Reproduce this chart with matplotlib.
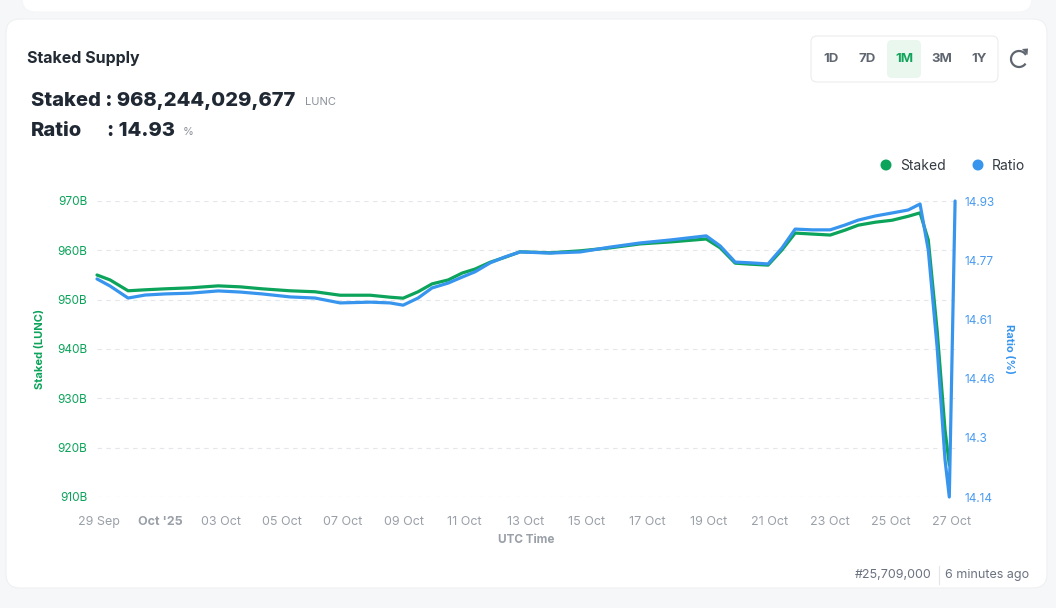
import numpy as np
import matplotlib
matplotlib.use("Agg")
from matplotlib import pyplot as plt
from matplotlib.patches import FancyBboxPatch, Arc, Polygon, Circle

plt.rcParams['font.family'] = ['Inter', 'DejaVu Sans']

# days after 29 Sep 2025
day_offset = [-0.07, 0.36, 0.95, 1.51, 2.17, 2.99, 3.91, 4.63, 5.35, 6.27,
              7.09, 7.91, 8.90, 9.55, 9.98, 10.47, 10.93, 11.46, 11.92, 12.34,
              12.84, 13.33, 13.82, 14.81, 15.79, 16.78, 17.76, 18.75, 19.93, 20.39,
              20.88, 21.37, 21.96, 22.42, 22.85, 23.41, 24.00, 24.49, 24.92, 25.48,
              26.03, 26.56, 26.95, 27.22, 27.51, 27.77, 27.91, 28.10]

# staked supply in billions of LUNC (no value for the last timestamp)
staked_b = [955.0, 954.0, 951.8, 952.0, 952.2, 952.4, 952.8, 952.6, 952.2, 951.8,
            951.6, 950.9, 950.9, 950.5, 950.3, 951.6, 953.2, 954.0, 955.4, 956.2,
            957.6, 958.6, 959.7, 959.5, 959.9, 960.5, 961.3, 961.7, 962.3, 960.5,
            957.4, 957.2, 957.0, 960.1, 963.5, 963.3, 963.1, 964.1, 965.1, 965.7,
            966.1, 966.9, 967.6, 962.1, 943.8, 923.6, 916.5, np.nan]

# staking ratio in %
ratio_pct = [14.722, 14.703, 14.671, 14.679, 14.682, 14.684, 14.690, 14.687, 14.682, 14.674,
             14.671, 14.658, 14.660, 14.658, 14.652, 14.671, 14.698, 14.711, 14.727, 14.741,
             14.765, 14.781, 14.794, 14.791, 14.794, 14.807, 14.818, 14.826, 14.837, 14.810,
             14.767, 14.765, 14.762, 14.805, 14.855, 14.853, 14.853, 14.866, 14.879, 14.890,
             14.898, 14.906, 14.922, 14.799, 14.540, 14.239, 14.140, 14.930]

x_ticks = list(range(0, 29, 2))
x_labels = ['29 Sep', "Oct '25", '03 Oct', '05 Oct', '07 Oct', '09 Oct', '11 Oct', '13 Oct',
            '15 Oct', '17 Oct', '19 Oct', '21 Oct', '23 Oct', '25 Oct', '27 Oct']
left_ticks = [910, 920, 930, 940, 950, 960, 970]
right_labels = ['14.14', '14.3', '14.46', '14.61', '14.77', '14.93']

GREEN = '#0ca35a'
BLUE = '#3795ee'
GRAY = '#9aa0a8'
DARK = '#1f2833'

W, H = 1056, 608
fig = plt.figure(figsize=(W / 100, H / 100), dpi=100)
fig.patch.set_facecolor('#f6f7f9')

# overlay in pixel coordinates for the card and the header texts
ov = fig.add_axes([0, 0, 1, 1])
ov.set_xlim(0, W)
ov.set_ylim(H, 0)
ov.axis('off')
ov.set_zorder(0)

ov.add_patch(FancyBboxPatch((22, -30), 1010, 42, boxstyle='round,pad=0,rounding_size=14',
                            fc='white', ec='#f4f5f7', lw=0.6))
ov.add_patch(FancyBboxPatch((6, 19), 1041, 569, boxstyle='round,pad=0,rounding_size=14',
                            fc='white', ec='#eff0f2', lw=0.8))

ov.text(27, 58, 'Staked Supply', fontsize=11.5, fontweight='bold', color='#222a33', va='center')
ov.text(31, 101, 'Staked : 968,244,029,677', fontsize=14.5, fontweight='heavy', color=DARK, va='center')
ov.text(305, 102, 'LUNC', fontsize=8, color='#8a9099', va='center')
ov.text(31, 131, 'Ratio', fontsize=14.5, fontweight='heavy', color=DARK, va='center')
ov.text(107, 131, ': 14.93', fontsize=14.5, fontweight='heavy', color=DARK, va='center')
ov.text(183, 132, '%', fontsize=8, color='#8a9099', va='center')

# period buttons
ov.add_patch(FancyBboxPatch((811, 36), 187, 46, boxstyle='round,pad=0,rounding_size=6',
                            fc='white', ec='#ececee', lw=0.8))
ov.add_patch(FancyBboxPatch((887, 40), 34, 38, boxstyle='round,pad=0,rounding_size=5',
                            fc='#eaf7ef', ec='none'))
for lbl, bx in zip(['1D', '7D', '1M', '3M', '1Y'], [831, 867, 904, 942, 979]):
    ov.text(bx, 59, lbl, fontsize=9.5, fontweight='bold', ha='center', va='center',
            color='#11a45a' if lbl == '1M' else '#5f6670')
ov.add_patch(Arc((1019, 59), 16, 16, theta1=35, theta2=330, color='#5f6670', lw=1.6))
ov.add_patch(Polygon([[1022, 49], [1028, 48.5], [1027.5, 55]], closed=True, fc='#5f6670', ec='none'))

# legend
ov.add_patch(Circle((886, 165), 5.5, fc=GREEN, ec='none'))
ov.text(900, 165.5, 'Staked', fontsize=10, color='#333a42', va='center')
ov.add_patch(Circle((978, 165), 5.5, fc=BLUE, ec='none'))
ov.text(992, 165.5, 'Ratio', fontsize=10, color='#333a42', va='center')

# footer
ov.text(932, 575, '#25,709,000', fontsize=9, color='#6b7280', ha='right', va='center')
ov.plot([939, 939], [566, 584], color='#e3e5e8', lw=0.8)
ov.text(945, 575, '6 minutes ago', fontsize=9, color='#6b7280', ha='left', va='center')

# chart
left, right, top, bottom = 97, 956, 201, 497
ax = fig.add_axes([left / W, (H - bottom) / H, (right - left) / W, (bottom - top) / H])
ax.set_zorder(2)
ax.patch.set_alpha(0)
ax2 = ax.twinx()
ax2.set_zorder(3)
ax2.patch.set_alpha(0)

ax.plot(day_offset, staked_b, color=GREEN, lw=2.3, solid_joinstyle='round',
        solid_capstyle='round', clip_on=False)
ax2.plot(day_offset, ratio_pct, color=BLUE, lw=2.3, solid_joinstyle='round',
         solid_capstyle='round', clip_on=False)

ax.set_xlim(-0.07, 28.13)
ax.set_ylim(910, 970)
ax2.set_ylim(14.14, 14.93)

ax.set_yticks(left_ticks)
ax.set_yticklabels([f'{v}B' for v in left_ticks])
ax2.set_yticks(np.linspace(14.14, 14.93, len(right_labels)))
ax2.set_yticklabels(right_labels)

ax.set_xticks(x_ticks)
ax.set_xticklabels(x_labels)
for t in ax.get_xticklabels():
    if t.get_text() == "Oct '25":
        t.set_fontweight('bold')
        t.set_color('#6b7079')

for a in (ax, ax2):
    for s in a.spines.values():
        s.set_visible(False)
    a.tick_params(length=0)
ax.tick_params(axis='y', colors=GREEN, labelsize=8.5, pad=7)
ax2.tick_params(axis='y', colors='#4a9bef', labelsize=8.5, pad=6)
ax.tick_params(axis='x', colors=GRAY, labelsize=9, pad=14)

ax.grid(axis='y', color='#e4e6e9', lw=0.8, ls=(0, (4, 4)))
ax.set_axisbelow(True)

ax.set_ylabel('Staked (LUNC)', fontsize=8, fontweight='bold', color=GREEN, labelpad=9)
ax2.set_ylabel('Ratio (%)', fontsize=8, fontweight='bold', color=BLUE, rotation=270, labelpad=14)
ax.set_xlabel('UTC Time', fontsize=8.5, fontweight='bold', color=GRAY, labelpad=4)

fig.savefig('out.png', dpi=100, facecolor=fig.get_facecolor())
